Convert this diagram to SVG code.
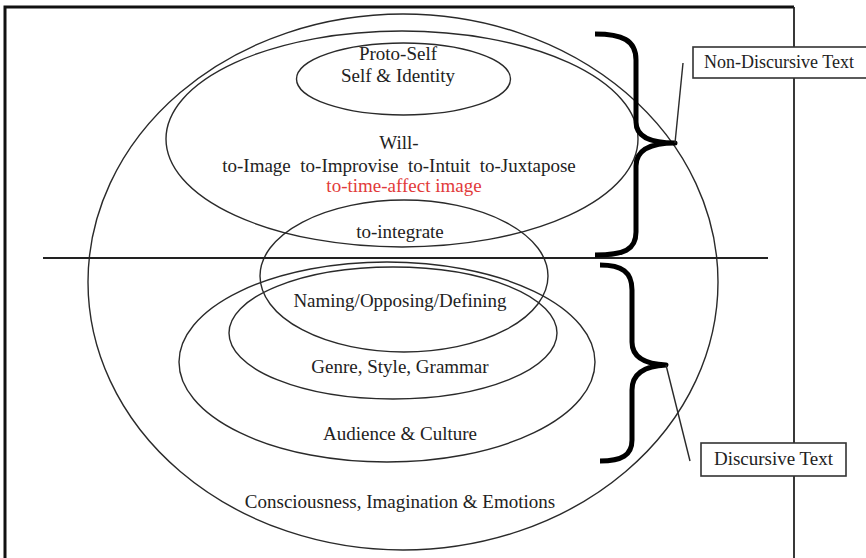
<svg xmlns="http://www.w3.org/2000/svg" width="866" height="558" viewBox="0 0 866 558">
<style>
.el{fill:none;stroke:#2a2a2a;stroke-width:1.4}
.t{font-family:"Liberation Serif","Times New Roman",serif;font-size:19px;fill:#222;text-anchor:middle}
.red{fill:#e23a3a}
.brace{fill:none;stroke:#000;stroke-width:5;stroke-linecap:butt;stroke-linejoin:round}
.ln{stroke:#2a2a2a;stroke-width:1.4;fill:none}
.box{fill:#fff;stroke:#333;stroke-width:1.6}
</style>
<rect width="866" height="558" fill="#fff"/>
<g id="frame">
<path d="M5,558 L5,7 L794,7" fill="none" stroke="#111" stroke-width="3"/>
<line x1="794" y1="7" x2="794" y2="558" stroke="#222" stroke-width="1.8"/>
</g>
<g id="consciousness">
<ellipse class="el" cx="403" cy="282" rx="315" ry="268"/>
<text class="t" x="400" y="508">Consciousness, Imagination &amp; Emotions</text>
</g>
<g id="will">
<ellipse class="el" cx="402" cy="139" rx="236" ry="108"/>
<text class="t" x="399" y="149">Will-</text>
<text class="t" x="399" y="172" xml:space="preserve">to-Image  to-Improvise  to-Intuit  to-Juxtapose</text>
<text class="t red" x="404" y="192">to-time-affect image</text>
</g>
<g id="proto-self">
<ellipse class="el" cx="403.5" cy="79" rx="107" ry="36"/>
<text class="t" x="398" y="60">Proto-Self</text>
<text class="t" x="398" y="82">Self &amp; Identity</text>
</g>
<g id="to-integrate">
<ellipse class="el" cx="404" cy="276" rx="144" ry="76"/>
<text class="t" x="400" y="238">to-integrate</text>
<text class="t" x="400" y="307">Naming/Opposing/Defining</text>
</g>
<g id="genre">
<ellipse class="el" cx="393" cy="333" rx="164" ry="66"/>
<text class="t" x="400" y="373">Genre, Style, Grammar</text>
</g>
<g id="audience">
<ellipse class="el" cx="387" cy="362" rx="208" ry="100"/>
<text class="t" x="400" y="440">Audience &amp; Culture</text>
</g>
<g id="divider">
<line x1="43" y1="258" x2="768" y2="258" stroke="#222" stroke-width="2"/>
</g>
<g id="connectors">
<path class="brace" d="M595,34 C622,34 636,40 636,60 L636,122 C636,137 650,143 675,143 C650,143 636,150 636,166 L636,232 C636,250 624,255 595,255"/>
<path class="brace" d="M600,265 C622,265 632,272 632,290 L632,342 C632,357 645,364 666,365 C645,366 632,373 632,390 L632,440 C632,455 622,461 600,461"/>
<line class="ln" x1="675" y1="143" x2="683" y2="63"/>
<line class="ln" x1="666" y1="365" x2="690" y2="461"/>
</g>
<g id="non-discursive-text">
<rect class="box" x="693" y="47" width="180" height="31"/>
<text class="t" x="779" y="68" style="font-size:18px">Non-Discursive Text</text>
</g>
<g id="discursive-text">
<rect class="box" x="701" y="443" width="145" height="33"/>
<text class="t" x="773.5" y="465">Discursive Text</text>
</g>
</svg>
